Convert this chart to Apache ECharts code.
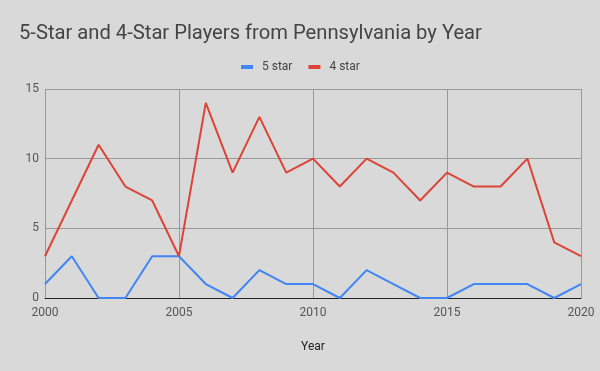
<!DOCTYPE html>
<html><head><meta charset="utf-8">
<script src="https://cdn.jsdelivr.net/npm/echarts@6/dist/echarts.min.js"></script>
<style>html,body{margin:0;padding:0;background:#d9d9d9}#c{width:600px;height:371px}</style>
</head><body><div id="c"></div>
<script>
const years = [2000,2001,2002,2003,2004,2005,2006,2007,2008,2009,2010,2011,2012,2013,2014,2015,2016,2017,2018,2019,2020];
const fiveStar = [1,3,0,0,3,3,1,0,2,1,1,0,2,1,0,0,1,1,1,0,1];
const fourStar = [3,7,11,8,7,3,14,9,13,9,10,8,10,9,7,9,8,8,10,4,3];
const yTicks = [0,5,10,15];

const chart = echarts.init(document.getElementById('c'), null, {renderer:'canvas'});
const pair = arr => years.map((y,i)=>[y,arr[i]]);
chart.setOption({
  backgroundColor:'#d9d9d9',
  animation:false,
  title:{text:'5-Star and 4-Star Players from Pennsylvania by Year', left:14, top:19,
    textStyle:{fontFamily:'Roboto', fontSize:20.2, fontWeight:'normal', color:'#444'}},
  legend:{top:56, left:236, itemWidth:12, itemHeight:4, itemGap:16,
    icon:'rect',
    textStyle:{fontFamily:'Roboto', fontSize:12, color:'#444', padding:[0,0,0,4]},
    data:['5 star','4 star']},
  grid:{left:45, right:19, top:89, bottom:73},
  xAxis:{type:'value', min:2000, max:2020, interval:5, name:'Year', nameLocation:'middle', nameGap:43,
    nameTextStyle:{fontFamily:'Roboto', fontSize:12, color:'#222'},
    axisLine:{show:true, lineStyle:{color:'#222', width:1}},
    axisTick:{show:false},
    axisLabel:{fontFamily:'Roboto', fontSize:12, color:'#555', margin:9, formatter:v=>String(v)},
    splitLine:{show:true, lineStyle:{color:'#999', width:1}}},
  yAxis:{type:'value', min:yTicks[0], max:yTicks[yTicks.length-1], interval:5,
    axisLine:{show:false}, axisTick:{show:false},
    axisLabel:{fontFamily:'Roboto', fontSize:12, color:'#555', margin:6},
    splitLine:{show:true, lineStyle:{color:'#999', width:1}}},
  series:[
    {name:'5 star', type:'line', data:pair(fiveStar), symbol:'none', itemStyle:{color:'#4285f4'}, lineStyle:{color:'#4285f4', width:2}},
    {name:'4 star', type:'line', data:pair(fourStar), symbol:'none', itemStyle:{color:'#db4437'}, lineStyle:{color:'#db4437', width:2}}
  ]
});
</script></body></html>
